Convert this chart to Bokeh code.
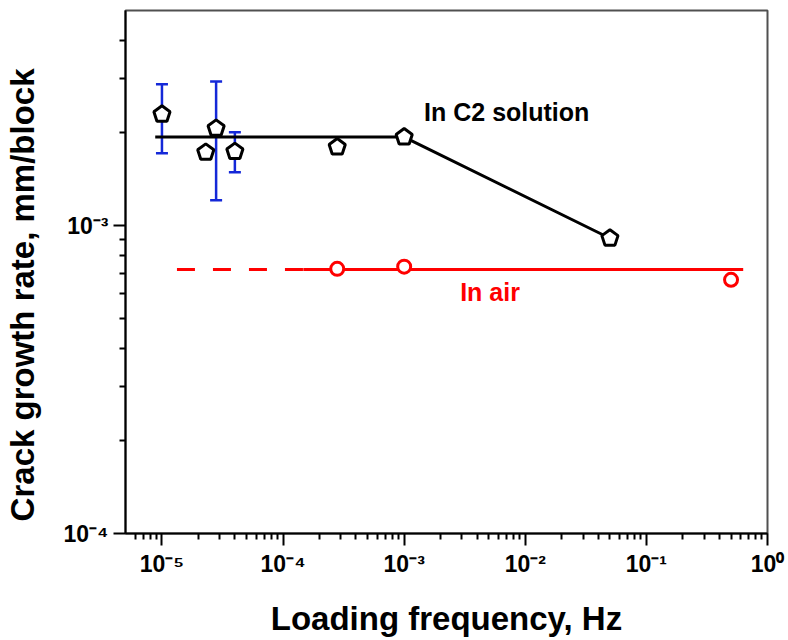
import math

from bokeh.embed import file_html
from bokeh.models import ColumnDataSource, FixedTicker, Label, TeeHead, Whisker
from bokeh.plotting import figure
from bokeh.resources import INLINE

# Crack growth rate in C2 solution (mm/block) vs loading frequency (Hz)
c2_freq = [1e-5, 2.3e-5, 2.8e-5, 4e-5, 2.8e-4, 1e-3, 5e-2]
c2_rate = [2.30e-3, 1.73e-3, 2.07e-3, 1.74e-3, 1.80e-3, 1.94e-3, 9.1e-4]

# Scatter bands for the repeated low-frequency tests
err_freq = [1e-5, 2.8e-5, 4e-5]
err_upper = [2.88e-3, 2.94e-3, 2.01e-3]
err_lower = [1.72e-3, 1.21e-3, 1.49e-3]

# Bilinear trend in C2 solution: plateau, then decline above 1e-3 Hz
c2_trend_freq = [8.8e-6, 1e-3, 5e-2]
c2_trend_rate = [1.94e-3, 1.94e-3, 9.1e-4]

# Crack growth rate in air
air_freq = [2.8e-4, 1e-3, 0.5]
air_rate = [7.24e-4, 7.36e-4, 6.67e-4]
air_level = 7.2e-4
air_extrap_freq = [1.33e-5, 1.47e-4]   # extrapolated (dashed)
air_fit_freq = [1.47e-4, 0.63]          # fitted range (solid)

# Axis ticks and labels
x_major = [1e-5, 1e-4, 1e-3, 1e-2, 1e-1, 1.0]
x_labels = ["10⁻⁵", "10⁻⁴", "10⁻³", "10⁻²", "10⁻¹", "10⁰"]
y_major = [1e-4, 1e-3]
y_labels = ["10⁻⁴", "10⁻³"]

X_RANGE = (5e-6, 1.0)
Y_RANGE = (1e-4, 5e-3)

FONT = "Liberation Sans"
RED = "#ff0000"
BLUE = "#1428d8"

p = figure(
    width=788, height=640,
    x_axis_type="log", y_axis_type="log",
    x_range=X_RANGE, y_range=Y_RANGE,
    output_backend="svg", toolbar_location=None,
    min_border_left=124, min_border_right=21,
    min_border_top=10, min_border_bottom=107,
)
p.background_fill_color = "white"
p.border_fill_color = "white"
p.xgrid.visible = False
p.ygrid.visible = False
p.outline_line_color = "#505050"
p.outline_line_width = 2


def minor_ticks(lo, hi):
    ticks = []
    for e in range(int(math.floor(math.log10(lo))), int(math.ceil(math.log10(hi))) + 1):
        for m in range(2, 10):
            t = m * 10.0 ** e
            if lo < t < hi:
                ticks.append(t)
    return ticks


p.xaxis.ticker = FixedTicker(ticks=x_major, minor_ticks=minor_ticks(*X_RANGE))
p.yaxis.ticker = FixedTicker(ticks=y_major, minor_ticks=minor_ticks(*Y_RANGE))
p.xaxis.major_label_overrides = dict(zip(x_major, x_labels))
p.yaxis.major_label_overrides = dict(zip(y_major, y_labels))

for ax in (p.xaxis[0], p.yaxis[0]):
    ax.axis_line_width = 2
    ax.axis_line_color = "black"
    ax.major_tick_line_width = 2
    ax.minor_tick_line_width = 2
    ax.major_tick_line_color = "black"
    ax.minor_tick_line_color = "black"
    ax.major_tick_out = 12
    ax.major_tick_in = 0
    ax.minor_tick_out = 6
    ax.minor_tick_in = 0
    ax.major_label_text_font = FONT
    ax.major_label_text_font_style = "bold"
    ax.major_label_text_font_size = "23px"
    ax.major_label_text_color = "black"
    ax.major_label_standoff = 5
    ax.axis_label_text_font = FONT
    ax.axis_label_text_font_style = "bold"
    ax.axis_label_text_color = "black"

p.xaxis.axis_label = "Loading frequency, Hz"
p.xaxis.axis_label_text_font_size = "33px"
p.xaxis.axis_label_standoff = 20

# Vertical title; trailing no-break spaces push the words toward the bottom
p.yaxis.axis_label = "Crack growth rate, mm/block" + "\u00a0" * 5
p.yaxis.axis_label_text_font_size = "33px"
p.yaxis.axis_label_standoff = 20

# Air: extrapolated and fitted level
p.line(x=air_extrap_freq, y=[air_level] * len(air_extrap_freq),
       line_color=RED, line_width=3, line_dash="18 18")
p.line(x=air_fit_freq, y=[air_level] * len(air_fit_freq),
       line_color=RED, line_width=3)

# C2 solution trend
p.line(x=c2_trend_freq, y=c2_trend_rate, line_color="black", line_width=3)

# Scatter bands
err_src = ColumnDataSource(dict(base=err_freq, upper=err_upper, lower=err_lower))
p.add_layout(Whisker(
    source=err_src, base="base", upper="upper", lower="lower", dimension="height",
    line_color=BLUE, line_width=2.5,
    upper_head=TeeHead(size=12, line_color=BLUE, line_width=2.5),
    lower_head=TeeHead(size=12, line_color=BLUE, line_width=2.5),
))

# C2 solution data points (open pentagons)
c2_src = ColumnDataSource(dict(x=c2_freq, y=c2_rate))
p.ngon(x="x", y="y", radius=8.5, radius_units="screen", n=5,
       angle=0, source=c2_src,
       fill_color="white", line_color="black", line_width=3)

# Air data points (open circles)
p.scatter(x=air_freq, y=air_rate, marker="circle", size=13,
          fill_color="white", line_color=RED, line_width=3)

p.add_layout(Label(
    x=1.46e-3, y=2.34e-3, text="In C2 solution",
    text_align="left", text_baseline="middle",
    text_font=FONT, text_font_style="bold", text_font_size="25px",
    text_color="black",
))
p.add_layout(Label(
    x=2.9e-3, y=6.1e-4, text="In air",
    text_align="left", text_baseline="middle",
    text_font=FONT, text_font_style="bold", text_font_size="25px",
    text_color=RED,
))

open("out.html", "w").write(file_html(p, INLINE))
